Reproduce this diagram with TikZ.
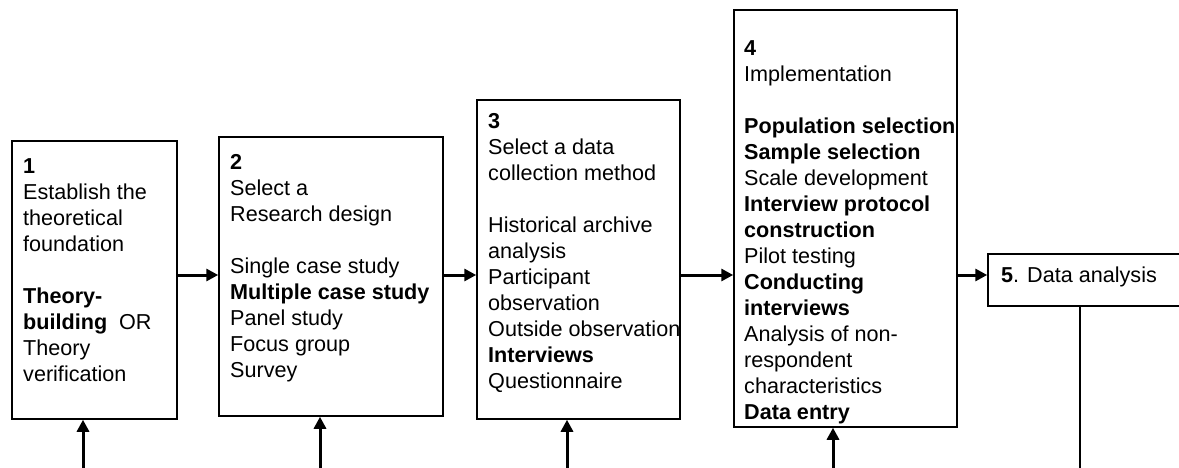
\documentclass[tikz,border=0pt]{standalone}
\usepackage{fontspec}
\setmainfont{Liberation Sans}
\usetikzlibrary{positioning,arrows.meta}
\tikzset{
	box/.style={draw, line width=1.5pt, inner sep=0pt},
	txt/.style={align=left, inner sep=0pt, anchor=base west, font=\fontsize{21.6}{26}\selectfont},
	arr/.style={line width=3pt, -{Triangle[length=12pt,width=12pt]}},
}

\begin{document}
\begin{tikzpicture}[x=1pt, y=-1pt]
	\useasboundingbox (0,0) rectangle (1179,468);
	\clip (0,0) rectangle (1179,468);

	\node[box, minimum width=165, minimum height=278] (s1) at (94.5, 280) {};
	\node[box, minimum width=224, minimum height=279] (s2) at (331, 276.5) {};
	\node[box, minimum width=203, minimum height=319] (s3) at (578.5, 259.5) {};
	\node[box, minimum width=223, minimum height=417] (s4) at (845.5, 218.5) {};
	\node[box, minimum width=207, minimum height=52] (s5) at (1091.5, 280) {};

	\node[txt] (t1) at (23, 381) {\textbf{1}\\Establish the\\theoretical\\foundation\\[26pt]\textbf{Theory-}\\\textbf{building}\ \ OR\\Theory\\verification};
	\node[txt] (t2) at (230, 377) {\textbf{2}\\Select a\\Research design\\[26pt]Single case study\\\textbf{Multiple case study}\\Panel study\\Focus group\\Survey};
	\node[txt] (t3) at (488, 388) {\textbf{3}\\Select a data\\collection method\\[26pt]Historical archive\\analysis\\Participant\\observation\\Outside observation\\\textbf{Interviews}\\Questionnaire};
	\node[txt] (t4) at (744, 419) {\textbf{4}\\Implementation\\[26pt]\textbf{Population selection}\\\textbf{Sample selection}\\Scale development\\\textbf{Interview protocol}\\\textbf{construction}\\Pilot testing\\\textbf{Conducting}\\\textbf{interviews}\\Analysis of non-\\respondent\\characteristics\\\textbf{Data entry}};
	\node[txt] (t5) at (1001, 282) {\textbf{5}. Data analysis};

	\coordinate (row) at (0, 275);
	\draw[arr] (s1.east |- row) -- (s2.west |- row);
	\draw[arr] (s2.east |- row) -- (s3.west |- row);
	\draw[arr] (s3.east |- row) -- (s4.west |- row);
	\draw[arr] (s4.east |- row) -- (s5.west |- row);

	\coordinate (f1) at (83, 468);
	\coordinate (f2) at (320, 468);
	\coordinate (f3) at (567, 468);
	\coordinate (f4) at (833, 468);
	\coordinate (f5) at (1080, 468);
	\draw[arr] (f1) -- (f1 |- s1.south);
	\draw[arr] (f2) -- (f2 |- s2.south);
	\draw[arr] (f3) -- (f3 |- s3.south);
	\draw[arr] (f4) -- (f4 |- s4.south);
	\draw[line width=1.2pt] (s5.south -| f5) -- (f5);
\end{tikzpicture}
\end{document}
